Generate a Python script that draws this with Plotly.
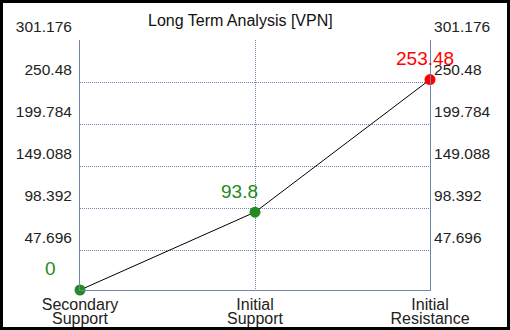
import plotly.graph_objects as go

categories_line1 = ["Secondary", "Initial", "Initial"]
categories_line2 = ["Support", "Support", "Resistance"]
values = [0, 93.8, 253.48]
marker_colors = ["#228b22", "#228b22", "#ff0000"]
label_texts = ["0", "93.8", "253.48"]
label_colors = ["#228b22", "#228b22", "#ff0000"]
label_xshift = [-30, -16, -5]
label_yshift = [22, 21, 21]
tick_vals = [47.696, 98.392, 149.088, 199.784, 250.48, 301.176]
tick_text = ["47.696", "98.392", "149.088", "199.784", "250.48", "301.176"]
y_max = 301.176
title_text = "Long Term Analysis [VPN]"

FONT = "Liberation Sans, Arial, sans-serif"
AXIS_COLOR = "#6f84aa"
DOT = "1px,1px"

positions = list(range(len(values)))

fig = go.Figure()
fig.add_trace(go.Scatter(
    x=positions, y=values, mode="lines+markers",
    line=dict(color="black", width=1),
    marker=dict(color=marker_colors, size=11),
    showlegend=False, hoverinfo="skip", cliponaxis=False,
))
fig.add_trace(go.Scatter(
    x=[positions[0], positions[-1]], y=[0, y_max], xaxis="x2", yaxis="y2", mode="markers",
    marker=dict(opacity=0), showlegend=False, hoverinfo="skip",
))

for i, (t, c, dx, dy) in enumerate(zip(label_texts, label_colors, label_xshift, label_yshift)):
    fig.add_annotation(x=positions[i], y=values[i], text=t, showarrow=False,
                       xshift=dx, yshift=dy, font=dict(color=c, size=19, family=FONT))

fig.add_annotation(x=(240 - 80) / 350, y=(290 - 10) / 250, xref="paper", yref="paper",
                   text=title_text, showarrow=False,
                   font=dict(size=16, color="#111", family=FONT))

fig.add_shape(type="rect", xref="paper", yref="paper",
              x0=(1.5 - 80) / 350, x1=(508.5 - 80) / 350,
              y0=(290 - 328.5) / 250, y1=(290 - 1.5) / 250,
              line=dict(color="black", width=3), fillcolor="rgba(0,0,0,0)")

yaxis_common = dict(
    range=[0, y_max], tickmode="array", tickvals=tick_vals, ticktext=tick_text,
    tickfont=dict(size=15.5, color="#222", family=FONT),
    showline=True, linecolor=AXIS_COLOR, linewidth=1, zeroline=False,
    ticks="", ticklabelshift=-13, fixedrange=True, automargin=False,
)
xaxis_common = dict(
    range=[positions[0], positions[-1]], tickmode="array", tickvals=positions,
    tickfont=dict(size=16, color="#222", family=FONT),
    zeroline=False, ticks="", fixedrange=True, automargin=False,
)

fig.update_layout(
    width=510, height=330, autosize=False,
    margin=dict(l=80, r=80, t=40, b=40),
    paper_bgcolor="white", plot_bgcolor="white",
    xaxis=dict(**xaxis_common, ticktext=categories_line1,
               showline=True, linecolor=AXIS_COLOR, linewidth=1,
               showgrid=True, gridcolor=AXIS_COLOR, griddash=DOT, gridwidth=1,
               ticklabelstandoff=0),
    xaxis2=dict(**xaxis_common, ticktext=categories_line2, overlaying="x", side="bottom",
                showline=False, showgrid=False, ticklabelstandoff=17),
    yaxis=dict(**yaxis_common, side="left", showgrid=True, gridcolor=AXIS_COLOR,
               griddash=DOT, gridwidth=1, ticklabelstandoff=4),
    yaxis2=dict(**yaxis_common, side="right", overlaying="y", showgrid=False,
                ticklabelstandoff=0),
)

fig.write_html("out.html", config={"displayModeBar": False, "responsive": False},
               post_script="document.body.style.margin='0';document.body.style.overflow='hidden';")
